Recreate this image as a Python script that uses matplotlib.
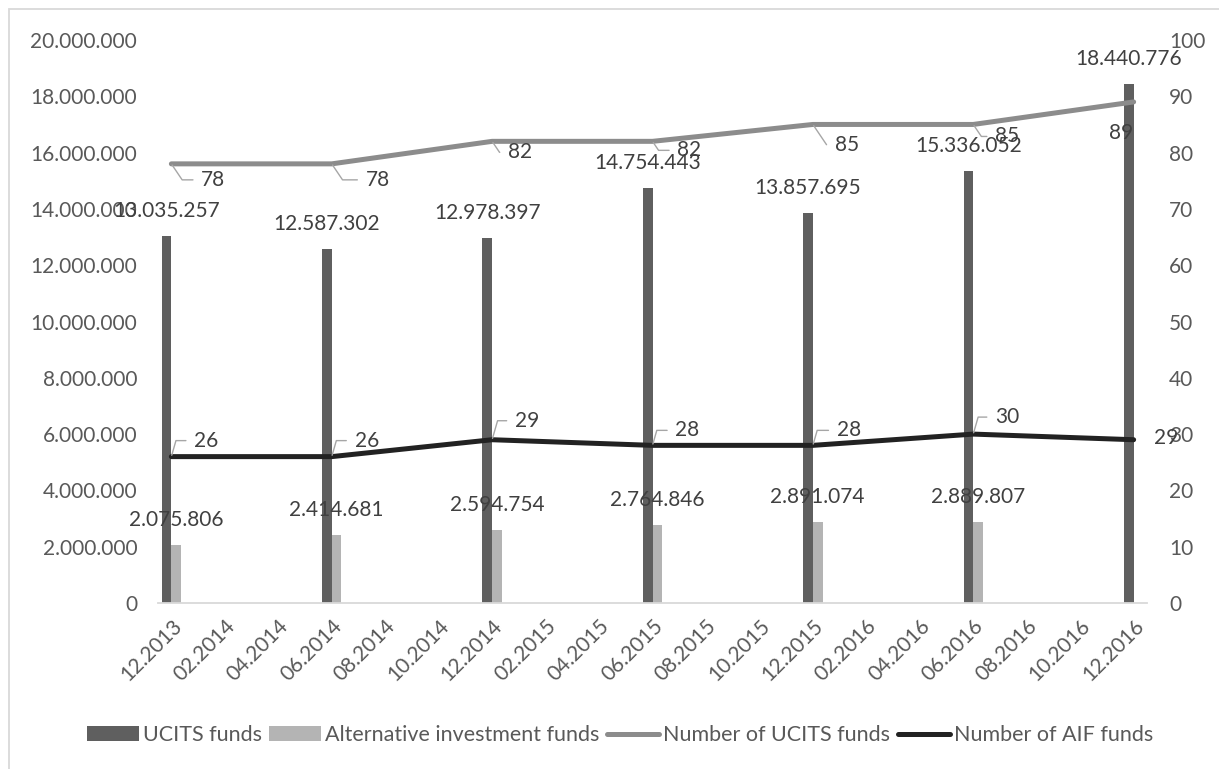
import matplotlib
matplotlib.use("Agg")
import matplotlib.pyplot as plt
from matplotlib.patches import Patch, Rectangle
from matplotlib.lines import Line2D
from matplotlib.ticker import FuncFormatter, MultipleLocator

plt.rcParams['font.family'] = ['Lato', 'DejaVu Sans']

# ---- data -------------------------------------------------------------
period_labels = ["12.2013", "06.2014", "12.2014", "06.2015",
                 "12.2015", "06.2016", "12.2016"]
period_month = [0, 6, 12, 18, 24, 30, 36]          # months since 12.2013
ucits_assets = [13035257, 12587302, 12978397, 14754443,
                13857695, 15336052, 18440776]
aif_assets = [2075806, 2414681, 2594754, 2764846,
              2891074, 2889807, None]
ucits_count = [78, 78, 82, 82, 85, 85, 89]
aif_count = [26, 26, 29, 28, 28, 30, 29]
month_ticks = ["12.2013", "02.2014", "04.2014", "06.2014", "08.2014", "10.2014",
               "12.2014", "02.2015", "04.2015", "06.2015", "08.2015", "10.2015",
               "12.2015", "02.2016", "04.2016", "06.2016", "08.2016", "10.2016",
               "12.2016"]

# ---- styling ----------------------------------------------------------
C_UCITS_BAR = "#5f5f5f"
C_AIF_BAR = "#b4b4b4"
C_UCITS_LINE = "#8c8c8c"
C_AIF_LINE = "#222222"
C_AXIS_TXT = "#595959"
C_LABEL_TXT = "#404040"
C_LEADER = "#a6a6a6"
FS = 15
FS_LEG = 15.5

W, H = 1219, 769
fig = plt.figure(figsize=(W / 100, H / 100), dpi=100)
ax = fig.add_axes([158 / W, (H - 603) / H, (1147 - 158) / W, 563 / H])
ax2 = ax.twinx()

# chart border (top and left edges visible)
fig.patches.append(Rectangle((9 / W, -0.2), 1.2, 1.2 - 9 / H,
                             transform=fig.transFigure, fill=False,
                             edgecolor="#d9d9d9", linewidth=1.3))

bw = 0.36
x_ucits = [m - bw / 2 for m in period_month]
x_aif = [m + bw / 2 for m in period_month]

ax.bar(x_ucits, ucits_assets, width=bw, color=C_UCITS_BAR, zorder=2)
aif_x = [x for x, v in zip(x_aif, aif_assets) if v is not None]
aif_v = [v for v in aif_assets if v is not None]
ax.bar(aif_x, aif_v, width=bw, color=C_AIF_BAR, zorder=2)

ax2.plot(period_month, ucits_count, color=C_UCITS_LINE, lw=3.6,
         solid_capstyle="round", solid_joinstyle="round", zorder=3)
ax2.plot(period_month, aif_count, color=C_AIF_LINE, lw=3.6,
         solid_capstyle="round", solid_joinstyle="round", zorder=3)


def thousands(v, _pos=None):
    return f"{int(round(v)):,}".replace(",", ".")


# bar value labels
for x, v in zip(x_ucits, ucits_assets):
    ax.annotate(thousands(v), (x, v), xytext=(0, 25), textcoords="offset pixels",
                ha="center", va="center", fontsize=FS, color=C_LABEL_TXT, zorder=4)
for x, v in zip(aif_x, aif_v):
    ax.annotate(thousands(v), (x, v), xytext=(0, 25), textcoords="offset pixels",
                ha="center", va="center", fontsize=FS, color=C_LABEL_TXT, zorder=4)

# line value labels (pixel offsets of each label, leader flag)
ucits_lbl_off = [(42, -16), (46, -16), (28, -11), (37, -9), (34, -21), (34, -12), (-13, -31)]
ucits_leader = [True, True, True, True, True, True, False]
aif_lbl_off = [(35, 16), (35, 16), (35, 19), (35, 15), (36, 15), (34, 17), (32, 2)]
aif_leader = [True, True, True, True, True, True, False]


def line_labels(xs, ys, offs, leaders, angle):
    for x, y, off, lead in zip(xs, ys, offs, leaders):
        kw = {}
        if lead:
            kw["arrowprops"] = dict(arrowstyle="-", color=C_LEADER, lw=1.0,
                                    shrinkA=4, shrinkB=1, relpos=(0, 0.5),
                                    connectionstyle=f"angle,angleA=0,angleB={angle},rad=0")
        ax2.annotate(str(y), (x, y), xytext=off, textcoords="offset pixels",
                     ha="center", va="center", fontsize=FS, color=C_LABEL_TXT,
                     zorder=5, **kw)


line_labels(period_month, ucits_count, ucits_lbl_off, ucits_leader, -56)
line_labels(period_month, aif_count, aif_lbl_off, aif_leader, 74)

# axes
ax.set_xlim(-0.5, 36.5)
ax.set_ylim(0, 20000000)
ax2.set_ylim(0, 100)
ax.yaxis.set_major_locator(MultipleLocator(2000000))
ax.yaxis.set_major_formatter(FuncFormatter(thousands))
ax2.yaxis.set_major_locator(MultipleLocator(10))

ax.set_xticks(range(0, 37, 2))
ax.set_xticklabels(month_ticks, rotation=45, ha="right", rotation_mode="anchor")

for a in (ax, ax2):
    for s in a.spines.values():
        s.set_visible(False)
    a.tick_params(length=0, labelsize=FS, labelcolor=C_AXIS_TXT)
ax.spines["bottom"].set_visible(True)
ax.spines["bottom"].set_color("#d9d9d9")
ax.spines["bottom"].set_linewidth(1.3)
ax.tick_params(axis="y", pad=15)
ax2.tick_params(axis="y", pad=16)
ax.tick_params(axis="x", pad=9)

# legend
handles = [
    Patch(facecolor=C_UCITS_BAR, label="UCITS funds"),
    Patch(facecolor=C_AIF_BAR, label="Alternative investment funds"),
    Line2D([], [], color=C_UCITS_LINE, lw=3.6, solid_capstyle="round", label="Number of UCITS funds"),
    Line2D([], [], color=C_AIF_LINE, lw=3.6, solid_capstyle="round", label="Number of AIF funds"),
]
leg = fig.legend(handles=handles, loc="center", ncol=4, frameon=False,
                 bbox_to_anchor=(620 / W, 1 - 735 / H), fontsize=FS_LEG,
                 handlelength=2.4, handleheight=0.65, handletextpad=0.2,
                 columnspacing=0.35)
for t in leg.get_texts():
    t.set_color(C_AXIS_TXT)

fig.savefig("out.png", dpi=100)
